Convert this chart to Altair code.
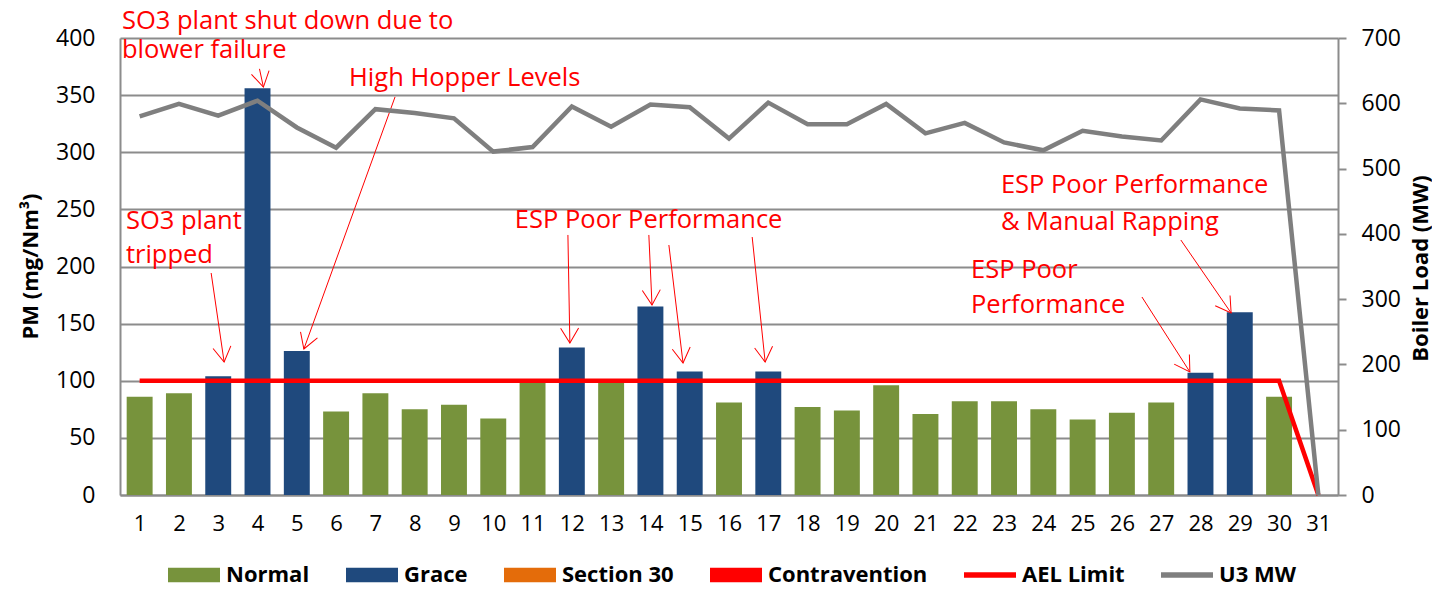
import math
import altair as alt
import pandas as pd

# ---------------- data ----------------
days = list(range(1, 32))
pm_values = [86, 89, 104, 356, 126, 73, 89, 75, 79, 67,
             99, 129, 99, 165, 108, 81, 108, 77, 74, 96,
             71, 82, 82, 75, 66, 72, 81, 107, 160, 86, 0]
status = ["Normal", "Normal", "Grace", "Grace", "Grace", "Normal", "Normal", "Normal", "Normal", "Normal",
          "Normal", "Grace", "Normal", "Grace", "Grace", "Normal", "Grace", "Normal", "Normal", "Normal",
          "Normal", "Normal", "Normal", "Normal", "Normal", "Normal", "Normal", "Grace", "Grace", "Normal", "Normal"]
ael_limit = [100, 100, 100, 100, 100, 100, 100, 100, 100, 100,
             100, 100, 100, 100, 100, 100, 100, 100, 100, 100,
             100, 100, 100, 100, 100, 100, 100, 100, 100, 100, 0]
u3_mw = [580, 599, 581, 604, 563, 532, 591, 585, 577, 526,
         533, 595, 564, 598, 594, 546, 601, 568, 568, 599,
         554, 570, 540, 528, 558, 549, 543, 606, 592, 589, 0]

legend_names = ["Normal", "Grace", "Section 30", "Contravention", "AEL Limit", "U3 MW"]
legend_colors = ["#77933C", "#1F497D", "#E46C0A", "#FF0000", "#FF0000", "#7F7F7F"]
rect_shape = "M-1,-0.28H1V0.28H-1Z"
line_shape = "M-1,-0.11H1V0.11H-1Z"
legend_shapes = [rect_shape, rect_shape, rect_shape, rect_shape, line_shape, line_shape]

ann_text = ["SO3 plant shut down due to", "blower failure", "High Hopper Levels",
            "SO3 plant", "tripped", "ESP Poor Performance",
            "ESP Poor Performance", "& Manual Rapping", "ESP Poor", "Performance"]
ann_day = [0.55, 0.55, 6.33, 0.65, 0.65, 10.55, 22.92, 22.92, 22.16, 22.16]
ann_pm = [407.9, 382.5, 358.0, 232.8, 203.1, 233.7, 264.3, 231.9, 189.9, 159.3]

arr_day = [4.05, 7.50, 2.82, 11.90, 13.96, 14.47, 16.59, 27.50, 26.51]
arr_pm = [373.0, 348.4, 194.3, 227.6, 227.6, 218.8, 225.8, 223.2, 173.3]
arr_day2 = [4.15, 5.18, 3.15, 11.95, 14.04, 14.83, 16.92, 28.78, 27.73]
arr_pm2 = [357.0, 127.8, 116.4, 133.0, 166.3, 115.5, 116.4, 159.3, 107.7]

# ---------------- layout constants ----------------
W, H = 1218, 457
PX_PER_DAY = W / 31.0
PX_PER_PM = H / 400.0
FONT = "Open Sans"
GRID = "#8C8C8C"

main_df = pd.DataFrame({"day": days, "pm": pm_values, "status": status,
                        "ael": ael_limit, "mw": u3_mw})
ann_df = pd.DataFrame({"txt": ann_text, "day": ann_day, "pm": ann_pm})
angles = []
for a, b, c, d in zip(arr_day, arr_pm, arr_day2, arr_pm2):
    dx = (c - a) * PX_PER_DAY
    dy = -(d - b) * PX_PER_PM
    angles.append(math.degrees(math.atan2(-dx, dy)) % 360)
arr_df = pd.DataFrame({"day": arr_day, "pm": arr_pm, "day2": arr_day2, "pm2": arr_pm2, "ang": angles})
leg_df = pd.DataFrame({"status": legend_names, "shape": legend_shapes,
                       "day": [1] * 6, "pm": [-1000] * 6})

xscale = alt.Scale(domain=[0.5, 31.5], nice=False, zero=False)
yscale = alt.Scale(domain=[0, 400], nice=False)
color_scale = alt.Scale(domain=legend_names, range=legend_colors)

x_axis = alt.Axis(values=days, format="d", title=None, grid=False, ticks=False,
                  labelPadding=18, labelFont=FONT, labelFontSize=22, labelColor="#000000",
                  domainColor=GRID, domainWidth=2, labelFlush=False)
y_axis = alt.Axis(values=list(range(0, 401, 50)), title="PM (mg/Nm³)", grid=True,
                  gridColor=GRID, gridWidth=2, ticks=False, labelPadding=25,
                  labelFont=FONT, labelFontSize=23, labelColor="#000000",
                  domainColor=GRID, domainWidth=2,
                  titleFont=FONT, titleFontSize=22, titleFontWeight="bold", titleColor="#000000",
                  titleX=-90, titleY=228, titleAngle=270, titleAlign="center", titleBaseline="middle")
legend = alt.Legend(title=None, orient="none", legendX=48, legendY=511, direction="horizontal",
                    padding=0, symbolSize=2704, symbolStrokeWidth=0, symbolOpacity=1,
                    labelFont=FONT, labelFontSize=22, labelFontWeight="bold",
                    labelColor="#000000", labelOffset=6, columnPadding=36, labelLimit=400)

X = lambda f: alt.X(f, scale=xscale, axis=x_axis)
Y = lambda f: alt.Y(f, scale=yscale, axis=y_axis)

base = alt.Chart(main_df)

bars = base.transform_calculate(
    x0="datum.day - 0.33", x1="datum.day + 0.33", zero="0"
).mark_bar().encode(
    x=X("x0:Q"),
    x2="x1:Q",
    y=Y("pm:Q"),
    y2="zero:Q",
    color=alt.Color("status:N", scale=color_scale, legend=legend),
)

ael_line = base.mark_line(color="#FF0000", strokeWidth=4.5).encode(
    x=X("day:Q"),
    y=Y("ael:Q"),
)

legend_pts = alt.Chart(leg_df).mark_point(filled=True, clip=True, size=2704, strokeWidth=0, opacity=1).encode(
    x=X("day:Q"),
    y=Y("pm:Q"),
    color=alt.Color("status:N", scale=color_scale, legend=legend),
    shape=alt.Shape("status:N", scale=alt.Scale(domain=legend_names, range=legend_shapes), legend=legend),
)

texts = alt.Chart(ann_df).mark_text(align="left", baseline="alphabetic", font=FONT,
                                    fontSize=25.5, color="#FF0000").encode(
    x=X("day:Q"),
    y=Y("pm:Q"),
    text="txt:N",
)

arrows = alt.Chart(arr_df).mark_rule(color="#FF0000", strokeWidth=1).encode(
    x=X("day:Q"),
    y=Y("pm:Q"),
    x2="day2:Q",
    y2="pm2:Q",
)

heads = alt.Chart(arr_df).mark_point(shape="M-0.6,-1L0,0L0.6,-1", filled=False, size=900,
                                     color="#FF0000", strokeWidth=1, opacity=1).encode(
    x=X("day2:Q"),
    y=Y("pm2:Q"),
    angle=alt.Angle("ang:Q", scale=None),
)

left = alt.layer(bars, ael_line, legend_pts, arrows, heads, texts)

right = base.mark_line(color="#7F7F7F", strokeWidth=4.5).encode(
    x=X("day:Q"),
    y=alt.Y("mw:Q", scale=alt.Scale(domain=[0, 700], nice=False),
            axis=alt.Axis(orient="right", values=list(range(0, 701, 100)), title="Boiler Load (MW)",
                          grid=False, tickSize=8, tickColor=GRID, tickWidth=2, labelPadding=15,
                          labelFont=FONT, labelFontSize=23, labelColor="#000000",
                          domainColor=GRID, domainWidth=2,
                          titleFont=FONT, titleFontSize=22, titleFontWeight="bold",
                          titleColor="#000000", titleX=82, titleY=230, titleAngle=270,
                          titleAlign="center", titleBaseline="middle")),
)

chart = alt.layer(left, right).resolve_scale(y="independent").properties(
    width=W, height=H,
    padding={"left": 112, "top": 30, "right": 94, "bottom": 89},
    autosize=alt.AutoSizeParams(type="none"),
).configure_view(stroke=None)

chart.save("out.html", embed_options={"renderer": "svg", "actions": False})
